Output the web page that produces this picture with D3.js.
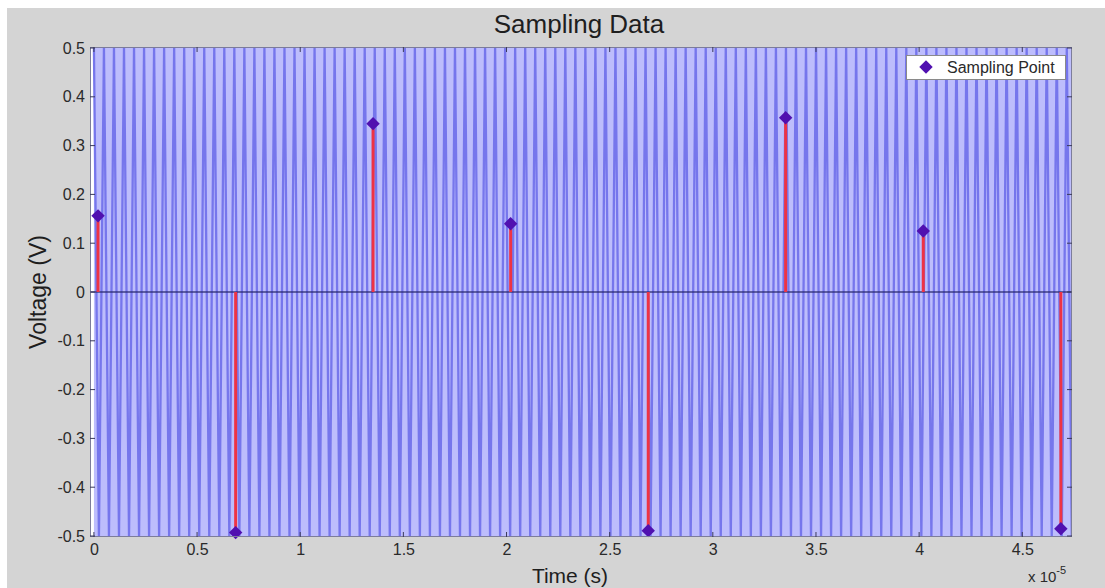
<!DOCTYPE html>
<html>
<head>
<meta charset="utf-8">
<script src="https://cdn.jsdelivr.net/npm/d3@7"></script>
<style>
  html, body { margin: 0; padding: 0; background: #ffffff; }
  svg { display: block; font-family: "Liberation Sans", Arial, sans-serif; }
</style>
</head>
<body>
<svg id="chart" width="1105" height="588"></svg>
<script>
// ---------- data (time in units of 1e-5 s, voltage in V) ----------
const title = "Sampling Data";
const xLabel = "Time (s)";
const yLabel = "Voltage (V)";
const legendLabel = "Sampling Point";

const xTicks = [0, 0.5, 1, 1.5, 2, 2.5, 3, 3.5, 4, 4.5];
const xTickLabels = ["0", "0.5", "1", "1.5", "2", "2.5", "3", "3.5", "4", "4.5"];
const yTicks = [-0.5, -0.4, -0.3, -0.2, -0.1, 0, 0.1, 0.2, 0.3, 0.4, 0.5];
const yTickLabels = ["-0.5", "-0.4", "-0.3", "-0.2", "-0.1", "0", "0.1", "0.2", "0.3", "0.4", "0.5"];

const sampleTimes = [0.02, 0.687, 1.353, 2.02, 2.687, 3.353, 4.02, 4.687];
const sampleValues = [0.156, -0.493, 0.345, 0.14, -0.489, 0.357, 0.125, -0.485];

// successive peaks of the fast carrier (spread evenly over 0 .. 4.74)
const waveStart = 0;
const waveEnd = 4.74;
const wavePeaks = [
  0.5,-0.5,0.5,-0.5,0.5,-0.5,0.5,-0.5,0.5,-0.5,0.5,-0.5,0.5,-0.5,0.5,-0.5,0.5,-0.5,0.5,-0.5,
  0.5,-0.5,0.5,-0.5,0.5,-0.5,0.5,-0.5,0.5,-0.5,0.5,-0.5,0.5,-0.5,0.5,-0.5,0.5,-0.5,0.5,-0.5,
  0.5,-0.5,0.5,-0.5,0.5,-0.5,0.5,-0.5,0.5,-0.5,0.5,-0.5,0.5,-0.5,0.5,-0.5,0.5,-0.5,0.5,-0.5,
  0.5,-0.5,0.5,-0.5,0.5,-0.5,0.5,-0.5,0.5,-0.5,0.5,-0.5,0.5,-0.5,0.5,-0.5,0.5,-0.5,0.5,-0.5,
  0.5,-0.5,0.5,-0.5,0.5,-0.5,0.5,-0.5,0.5,-0.5,0.5,-0.5,0.5,-0.5,0.5,-0.5,0.5,-0.5,0.5,-0.5,
  0.5,-0.5,0.5,-0.5,0.5,-0.5,0.5,-0.5,0.5,-0.5,0.5,-0.5,0.5,-0.5,0.5,-0.5,0.5,-0.5,0.5,-0.5,
  0.5,-0.5,0.5,-0.5,0.5,-0.5,0.5,-0.5,0.5,-0.5,0.5,-0.5,0.5,-0.5,0.5,-0.5,0.5,-0.5,0.5,-0.5,
  0.5,-0.5,0.5,-0.5,0.5,-0.5,0.5,-0.5,0.5,-0.5,0.5,-0.5,0.5,-0.5,0.5,-0.5,0.5,-0.5,0.5,-0.5,
  0.5,-0.5,0.5,-0.5,0.5,-0.5,0.5,-0.5,0.5,-0.5,0.5,-0.5,0.5,-0.5,0.5,-0.5,0.5,-0.5,0.5,-0.5,
  0.5,-0.5,0.5,-0.5,0.5,-0.5,0.5,-0.5,0.5,-0.5,0.5,-0.5,0.5,-0.5,0.5,-0.5
];

// ---------- layout ----------
const svg = d3.select("#chart");
const W = 1105, H = 588;
const plot = { left: 90, right: 1072, top: 47, bottom: 537 };

svg.append("rect").attr("x", 7).attr("y", 8).attr("width", W - 7).attr("height", H - 8)
  .attr("fill", "#d4d4d4");

const x = d3.scaleLinear().domain([-0.019, 4.741]).range([plot.left, plot.right]);
const y = d3.scaleLinear().domain([-0.5, 0.5]).range([plot.bottom - 1, plot.top + 1]);

// plot background
svg.append("rect").attr("x", plot.left).attr("y", plot.top)
  .attr("width", plot.right - plot.left).attr("height", plot.bottom - plot.top)
  .attr("fill", "#ffffff");

svg.append("clipPath").attr("id", "clip").append("rect")
  .attr("x", plot.left).attr("y", plot.top)
  .attr("width", plot.right - plot.left).attr("height", plot.bottom - plot.top);

const g = svg.append("g").attr("clip-path", "url(#clip)");

// carrier wave
const idx = d3.scaleLinear().domain([0, wavePeaks.length - 1]).range([waveStart, waveEnd]);
const waveLine = d3.line()
  .x((d, i) => x(idx(i)))
  .y(d => y(d));
g.append("rect").attr("x", x(waveStart)).attr("y", plot.top)
  .attr("width", x(waveEnd) - x(waveStart)).attr("height", plot.bottom - plot.top)
  .attr("fill", "#bdbdfc");
g.append("path").datum(wavePeaks)
  .attr("d", waveLine)
  .attr("fill", "none")
  .attr("stroke", "#7676ec")
  .attr("stroke-width", 2.3);

// baseline
g.append("line").attr("x1", plot.left).attr("x2", plot.right)
  .attr("y1", y(0)).attr("y2", y(0))
  .attr("stroke", "#2a2a70").attr("stroke-width", 1.5).attr("opacity", 0.85);

// stems
const samples = sampleTimes.map((t, i) => ({ t, v: sampleValues[i] }));
g.selectAll(".stem").data(samples).enter().append("line")
  .attr("x1", d => x(d.t)).attr("x2", d => x(d.t))
  .attr("y1", y(0)).attr("y2", d => y(d.v))
  .attr("stroke", "#ee3344").attr("stroke-width", 3);

// markers
const diamond = d3.symbol().type(d3.symbolSquare).size(90);
svg.selectAll(".mk").data(samples).enter().append("path")
  .attr("d", diamond)
  .attr("transform", d => `translate(${x(d.t)},${y(d.v)}) rotate(45)`)
  .attr("fill", "#5010b0");

// frame
svg.append("rect").attr("x", plot.left + 0.5).attr("y", plot.top + 0.5)
  .attr("width", plot.right - plot.left - 1).attr("height", plot.bottom - plot.top - 1)
  .attr("fill", "none").attr("stroke", "#7d7d9a").attr("stroke-width", 1);

// ticks (inward, all four sides)
const tickLen = 5;
const tickColor = "#3a3a5a";
xTicks.forEach(t => {
  svg.append("line").attr("x1", x(t)).attr("x2", x(t))
    .attr("y1", plot.bottom).attr("y2", plot.bottom - tickLen)
    .attr("stroke", tickColor).attr("stroke-width", 1);
  svg.append("line").attr("x1", x(t)).attr("x2", x(t))
    .attr("y1", plot.top).attr("y2", plot.top + tickLen)
    .attr("stroke", tickColor).attr("stroke-width", 1);
});
yTicks.forEach(t => {
  svg.append("line").attr("x1", plot.left).attr("x2", plot.left + tickLen)
    .attr("y1", y(t)).attr("y2", y(t))
    .attr("stroke", tickColor).attr("stroke-width", 1);
  svg.append("line").attr("x1", plot.right).attr("x2", plot.right - tickLen)
    .attr("y1", y(t)).attr("y2", y(t))
    .attr("stroke", tickColor).attr("stroke-width", 1);
});

// tick labels via axes (lines hidden)
const xAxis = d3.axisBottom(x).tickValues(xTicks)
  .tickFormat((d, i) => xTickLabels[i]).tickSize(0).tickPadding(7);
const xa = svg.append("g").attr("transform", `translate(0,${plot.bottom})`).call(xAxis);
xa.select(".domain").remove();
xa.selectAll("text").attr("font-size", 16).attr("fill", "#2a2a2a")
  .attr("font-family", "'Liberation Sans', Arial, sans-serif");

const yAxis = d3.axisLeft(y).tickValues(yTicks)
  .tickFormat((d, i) => yTickLabels[i]).tickSize(0).tickPadding(5);
const ya = svg.append("g").attr("transform", `translate(${plot.left},0)`).call(yAxis);
ya.select(".domain").remove();
ya.selectAll("text").attr("font-size", 16).attr("fill", "#2a2a2a")
  .attr("font-family", "'Liberation Sans', Arial, sans-serif");

// exponent
const expo = svg.append("text").attr("x", 1028).attr("y", 582)
  .attr("font-size", 15).attr("fill", "#2a2a2a");
expo.append("tspan").text("x 10");
expo.append("tspan").attr("dy", -8).attr("font-size", 11).text("-5");

// titles
svg.append("text").attr("x", 579).attr("y", 33).attr("text-anchor", "middle")
  .attr("font-size", 26).attr("fill", "#1e1e1e").text(title);
svg.append("text").attr("x", 570).attr("y", 583).attr("text-anchor", "middle")
  .attr("font-size", 21).attr("fill", "#1e1e1e").text(xLabel);
svg.append("text").attr("transform", "translate(46,292) rotate(-90)")
  .attr("text-anchor", "middle").attr("font-size", 23).attr("fill", "#1e1e1e").text(yLabel);

// legend
const lg = svg.append("g");
lg.append("rect").attr("x", 906.5).attr("y", 55.5).attr("width", 159).attr("height", 24)
  .attr("fill", "#ffffff").attr("stroke", "#8a8a8a");
lg.append("path").attr("d", diamond).attr("transform", "translate(926,67) rotate(45)")
  .attr("fill", "#5010b0");
lg.append("text").attr("x", 947).attr("y", 73).attr("font-size", 16)
  .attr("fill", "#2a2a2a").text(legendLabel);
</script>
</body>
</html>
